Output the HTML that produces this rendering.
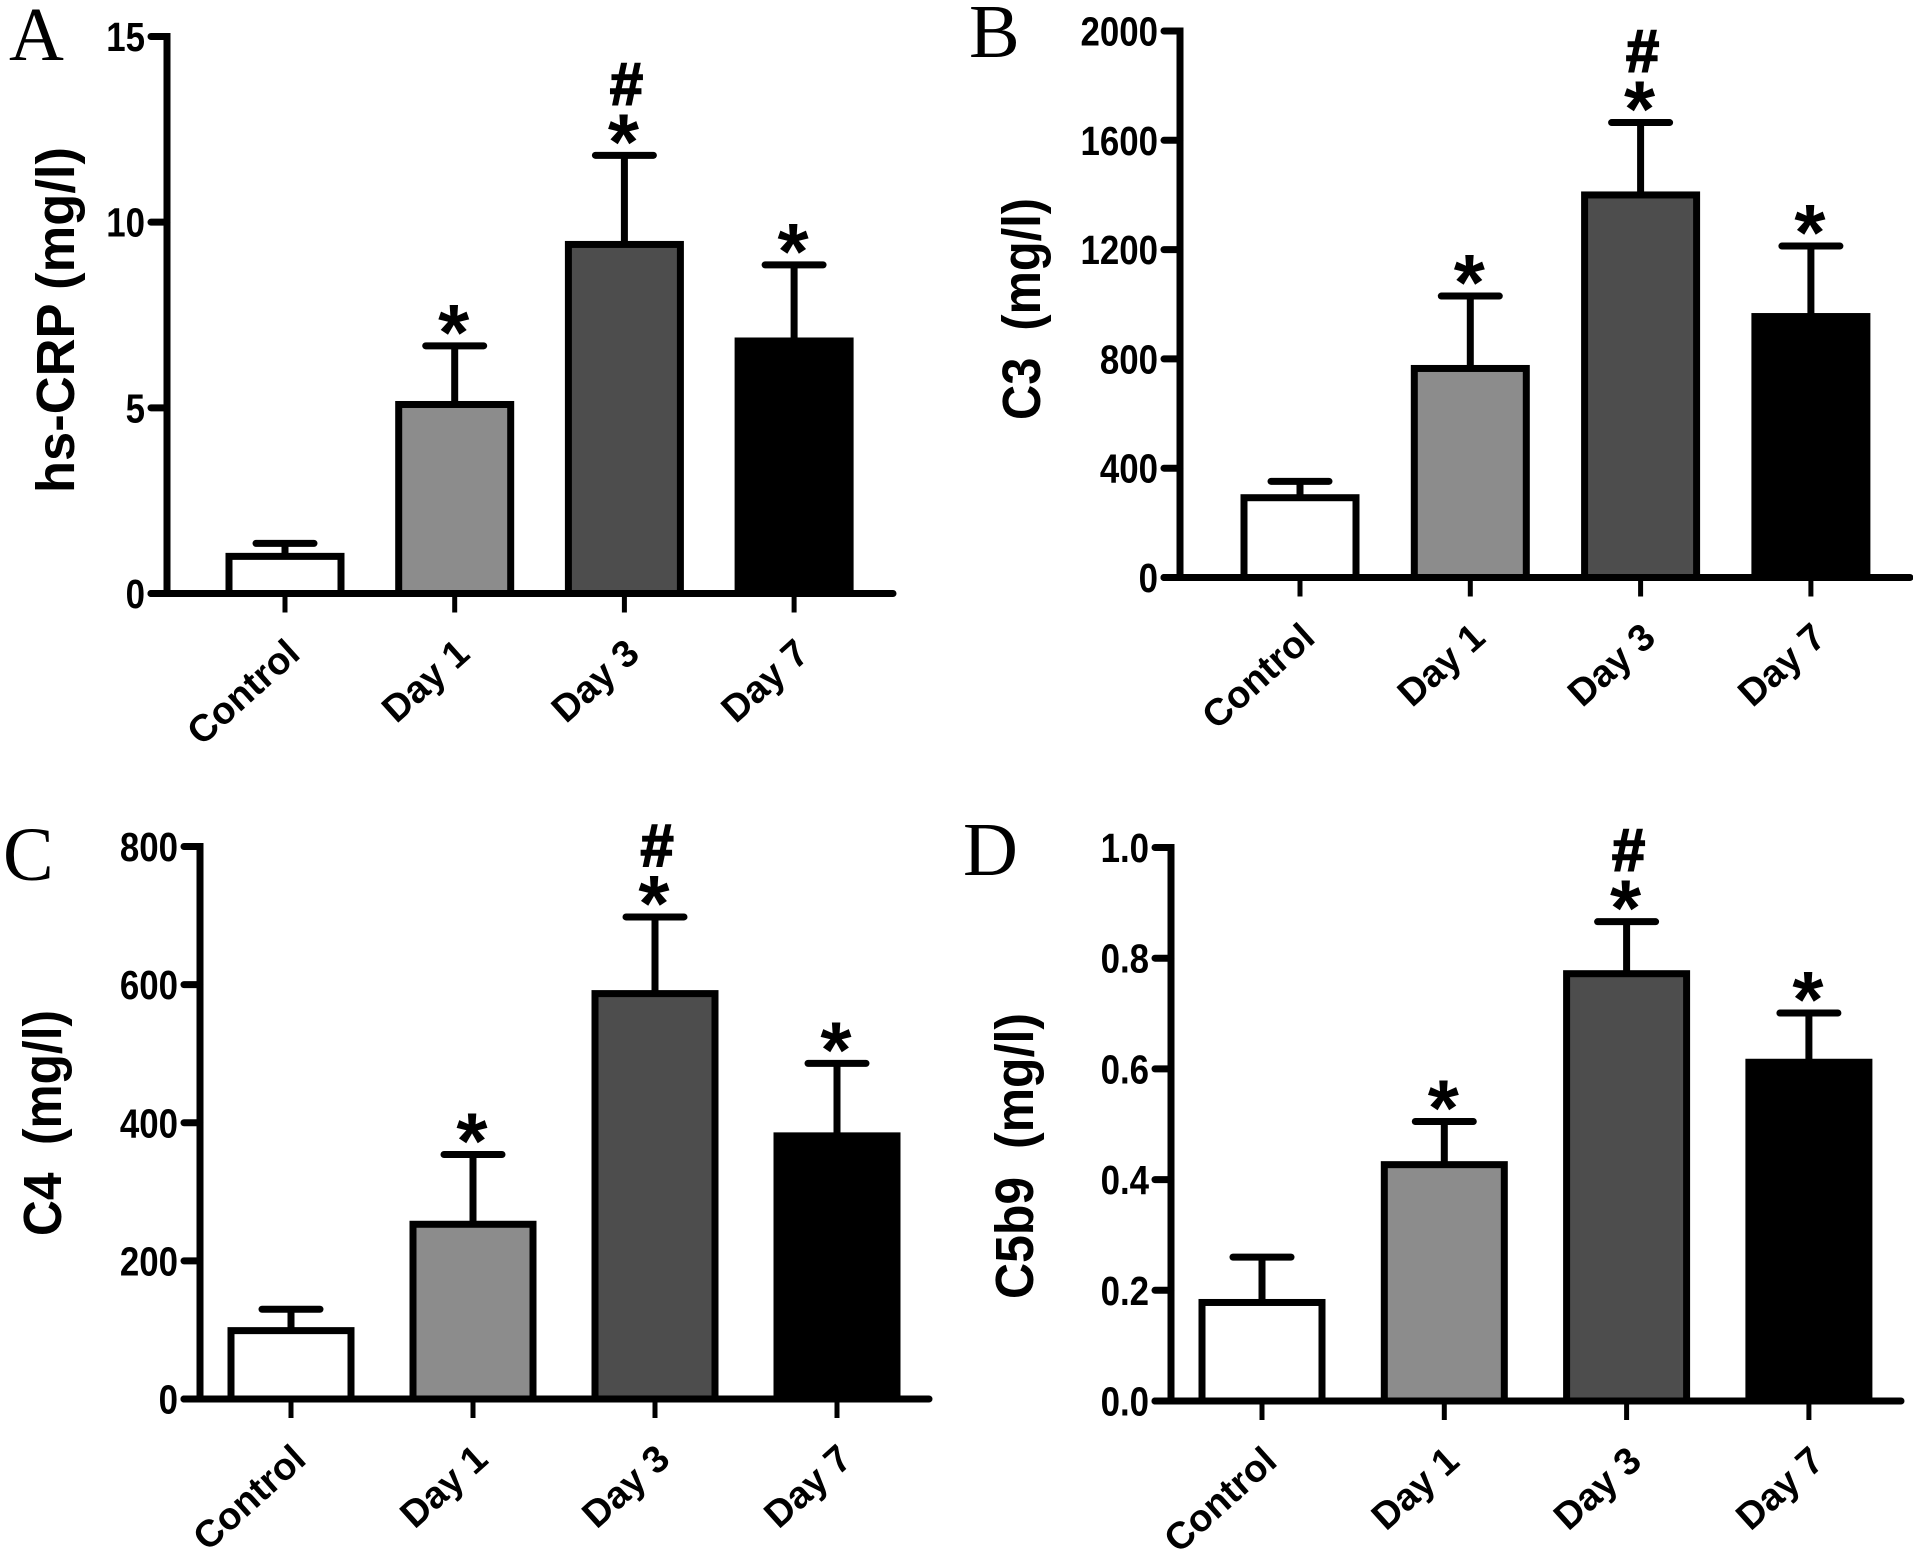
<!DOCTYPE html>
<html lang="en">
<head>
<meta charset="utf-8">
<title>Serum hs-CRP, C3, C4 and C5b9 levels</title>
<style>
  html, body { margin: 0; padding: 0; background: #fff; }
  svg { display: block; }
  text { font-family: "Liberation Sans", sans-serif; font-weight: 700; fill: #000; }
  .letter { font-family: "Liberation Serif", serif; font-weight: 400; }
</style>
</head>
<body>
<svg id="figure" xmlns="http://www.w3.org/2000/svg" width="1913" height="1554" viewBox="0 0 1913 1554"></svg>
<script>
const categories = ["Control", "Day 1", "Day 3", "Day 7"];
const barFills = ["#ffffff", "#8c8c8c", "#4d4d4d", "#000000"];
const starMarks = [false, true, true, true];
const hashMarks = [false, false, true, false];

const crpValues = [1.0, 5.09, 9.4, 6.8];
const crpErrors = [0.35, 1.58, 2.4, 2.05];
const crpTicks = ["0", "5", "10", "15"];

const c3Values = [292, 765, 1400, 955];
const c3Errors = [60, 265, 265, 258];
const c3Ticks = ["0", "400", "800", "1200", "1600", "2000"];

const c4Values = [99, 253, 587, 381];
const c4Errors = [31, 101, 111, 105];
const c4Ticks = ["0", "200", "400", "600", "800"];

const c5b9Values = [0.178, 0.427, 0.772, 0.612];
const c5b9Errors = [0.082, 0.078, 0.094, 0.089];
const c5b9Ticks = ["0.0", "0.2", "0.4", "0.6", "0.8", "1.0"];

const SVG_NS = "http://www.w3.org/2000/svg";
const figure = document.getElementById("figure");

function make(tag, attrs, parent, content) {
  const el = document.createElementNS(SVG_NS, tag);
  for (const key in attrs) el.setAttribute(key, attrs[key]);
  if (content !== undefined) el.textContent = content;
  parent.appendChild(el);
  return el;
}

function drawPanel(p) {
  const group = make("g", {}, figure);
  
  

  const yMin = Number(p.ticks[0]);
  const yMax = Number(p.ticks[p.ticks.length - 1]);
  const yOf = v => p.zeroY + (p.topY - p.zeroY) * (v - yMin) / (yMax - yMin);
  const xOf = i => p.firstX + p.stepX * i;

  const letter = make("text", { x: p.letterX, y: p.letterY, "font-size": 76, class: "letter" }, group, p.letter);
  
  

  const title = make("text", {
    transform: "translate(" + p.titleX + " " + p.titleY + ") rotate(-90)",
    "font-size": 54, textLength: p.titleLength, lengthAdjust: "spacingAndGlyphs"
  }, group, p.title);
  
  

  categories.forEach((name, i) => {
    const cx = xOf(i);
    const top = yOf(p.values[i]);
    const capY = yOf(p.values[i] + p.errors[i]);

    const stem = make("line", { x1: cx, x2: cx, y1: top, y2: capY, stroke: "#000", "stroke-width": 7 }, group);
    
    

    const cap = make("line", { x1: cx - 29, x2: cx + 29, y1: capY, y2: capY, stroke: "#000", "stroke-width": 7, "stroke-linecap": "round" }, group);
    
    

    const bar = make("rect", {
      x: cx - p.barWidth / 2, y: top, width: p.barWidth, height: p.zeroY - top,
      fill: barFills[i], stroke: "#000", "stroke-width": 7
    }, group);
    
    

    if (starMarks[i]) {
      const star = make("text", { x: cx - 1, y: capY + 14, "font-size": 80, "text-anchor": "middle" }, group, "*");
      
      
    }
    if (hashMarks[i]) {
      const hash = make("text", { x: cx + 2, y: capY - 51, "font-size": 60, "text-anchor": "middle", stroke: "#000", "stroke-width": 1.6 }, group, "#");
      
      
    }

    const xTick = make("line", { x1: cx, x2: cx, y1: p.zeroY, y2: p.zeroY + 19, stroke: "#000", "stroke-width": 5 }, group);
    
    

    const xLabel = make("text", {
      transform: "translate(" + (cx + 17) + " " + (p.zeroY + 63) + ") rotate(-42)",
      "font-size": 38, "text-anchor": "end"
    }, group, name);
    
    
  });

  const yAxis = make("line", { x1: p.axisX, x2: p.axisX, y1: p.topY - 3.5, y2: p.zeroY + 3.5, stroke: "#000", "stroke-width": 7 }, group);
  
  

  const xAxis = make("line", { x1: p.tickLeft, x2: p.axisEnd, y1: p.zeroY, y2: p.zeroY, stroke: "#000", "stroke-width": 7, "stroke-linecap": "round" }, group);
  
  

  p.ticks.forEach(label => {
    const ty = yOf(Number(label));
    const yTick = make("line", { x1: p.tickLeft, x2: p.axisX, y1: ty, y2: ty, stroke: "#000", "stroke-width": 7, "stroke-linecap": "round" }, group);
    
    

    const yLabel = make("text", {
      transform: "translate(" + (p.tickLeft - 6) + " " + (ty + 14.5) + ") scale(0.85 1)",
      "font-size": 41, "text-anchor": "end"
    }, group, label);
    
    
  });
}

drawPanel({
  key: "a", letter: "A", letterX: 9, letterY: 60,
  title: "hs-CRP (mg/l)", titleX: 74, titleY: 493, titleLength: 346,
  values: crpValues, errors: crpErrors, ticks: crpTicks,
  axisX: 167, tickLeft: 151, axisEnd: 893, topY: 36.5, zeroY: 593.5,
  firstX: 285, stepX: 169.7, barWidth: 112
});
drawPanel({
  key: "b", letter: "B", letterX: 969, letterY: 57,
  title: "C3\u00a0 (mg/l)", titleX: 1040, titleY: 420, titleLength: 222,
  values: c3Values, errors: c3Errors, ticks: c3Ticks,
  axisX: 1180, tickLeft: 1164, axisEnd: 1910, topY: 31, zeroY: 577.5,
  firstX: 1300, stepX: 170.3, barWidth: 112
});
drawPanel({
  key: "c", letter: "C", letterX: 3, letterY: 880,
  title: "C4\u00a0 (mg/l)", titleX: 61, titleY: 1236, titleLength: 226,
  values: c4Values, errors: c4Errors, ticks: c4Ticks,
  axisX: 200, tickLeft: 184, axisEnd: 929, topY: 846.5, zeroY: 1399,
  firstX: 291, stepX: 182, barWidth: 120
});
drawPanel({
  key: "d", letter: "D", letterX: 963, letterY: 875,
  title: "C5b9\u00a0 (mg/l)", titleX: 1033, titleY: 1299, titleLength: 286,
  values: c5b9Values, errors: c5b9Errors, ticks: c5b9Ticks,
  axisX: 1171, tickLeft: 1155, axisEnd: 1901, topY: 847.5, zeroY: 1401,
  firstX: 1262, stepX: 182.3, barWidth: 120
});
</script>
</body>
</html>
